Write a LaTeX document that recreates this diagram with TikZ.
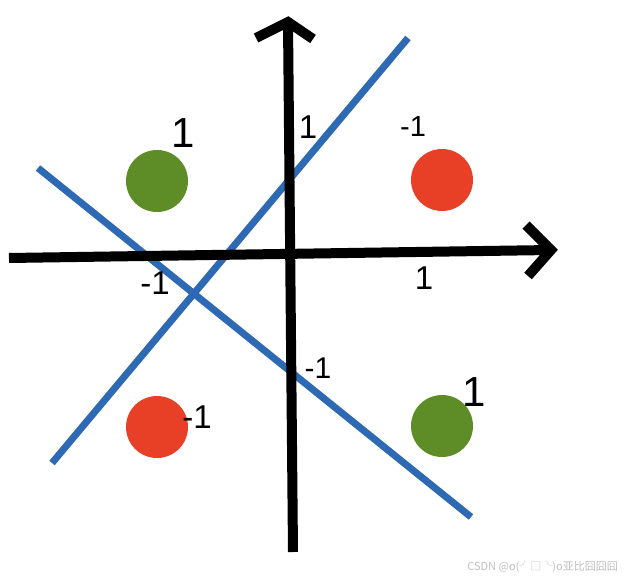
\documentclass[tikz,border=0pt]{standalone}
\usepackage{fontspec}
\setmainfont{Liberation Sans}
\newfontfamily\cjkfont{Noto Sans CJK SC}
\definecolor{dotgreen}{RGB}{94,140,38}
\definecolor{dotred}{RGB}{232,64,38}
\definecolor{lineblue}{RGB}{46,106,180}
\begin{document}
\begin{tikzpicture}[x=1pt,y=-1pt,
  axis/.style={line width=10pt, black},
  chevron/.style={line width=10pt, black, line join=miter},
  sep/.style={line width=7pt, lineblue},
  dot/.style={circle, minimum size=62pt, inner sep=0pt},
  lbl/.style={inner sep=0pt, font=\fontsize{#1}{#1}\selectfont},
  lbl/.default=25
]
\useasboundingbox (0,0) rectangle (626,580);
% axes
\coordinate (xl) at (9,258);
\coordinate (xr) at (551,250);
\coordinate (yb) at (293,552);
\coordinate (yt) at (288,22);
\coordinate (xw1) at (526,225);
\coordinate (xw2) at (528,276);
\coordinate (yw1) at (256,38);
\coordinate (yw2) at (313,39);
% separating lines
\coordinate (a1) at (52,463);
\coordinate (a2) at (408,38);
\coordinate (b1) at (38,168);
\coordinate (b2) at (471,517);
\draw[sep] (a1) -- (a2);
\draw[sep] (b1) -- (b2);
\draw[axis] (xl) -- (xr);
\draw[axis] (yb) -- (yt);
\draw[chevron] (xw1) -- (xr) -- (xw2);
\draw[chevron] (yw1) -- (yt) -- (yw2);
% points
\node[dot, fill=dotgreen] (g1) at (157,181) {};
\node[dot, fill=dotred] (r1) at (442,180) {};
\node[dot, fill=dotred] (r2) at (157,427) {};
\node[dot, fill=dotgreen] (g2) at (442,426) {};
% labels
\node[lbl=42] (lg1) at (183,133) {1};
\node[lbl=29] (lr1) at (413,127) {-1};
\node[lbl=33] (ly1) at (308,127) {1};
\node[lbl=33] (lx1) at (424,278) {1};
\node[lbl=33] (lxm) at (155,283) {-1};
\node[lbl=30] (lym) at (318,368) {-1};
\node[lbl=33] (lr2) at (197,417) {-1};
\node[lbl=42] (lg2) at (474,392) {1};
% watermark
\node[inner sep=0pt, text=black!25, font=\cjkfont\fontsize{11}{11}\selectfont, anchor=east] (wm) at (618,567) {CSDN @o(╯□╰)o亚比囧囧囧};
\end{tikzpicture}
\end{document}
